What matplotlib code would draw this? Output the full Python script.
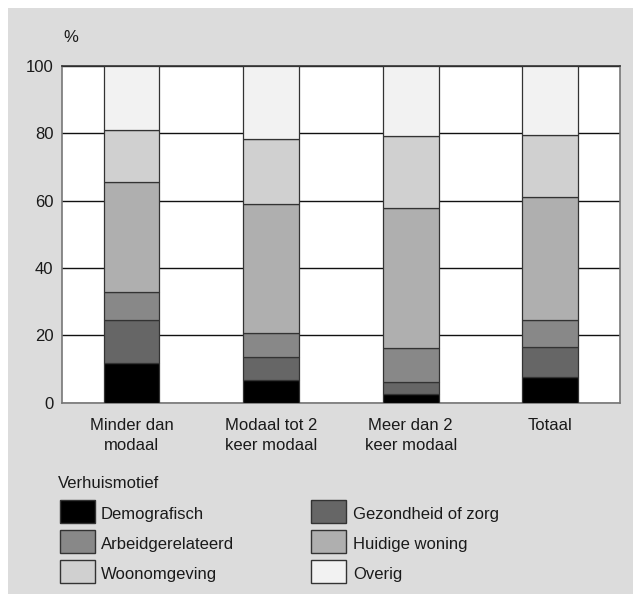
import matplotlib
matplotlib.use("Agg")
import matplotlib.pyplot as plt
from matplotlib.patches import Rectangle
import numpy as np

plt.rcParams['font.family'] = ['Liberation Sans', 'DejaVu Sans']

categories = ["Minder dan\nmodaal", "Modaal tot 2\nkeer modaal", "Meer dan 2\nkeer modaal", "Totaal"]
series_names = ["Demografisch", "Gezondheid of zorg", "Arbeidgerelateerd",
                "Huidige woning", "Woonomgeving", "Overig"]
demografisch = [11.7, 6.7, 2.6, 7.7]
gezondheid = [12.8, 6.9, 3.6, 8.8]
arbeid = [8.3, 7.1, 9.9, 8.1]
huidige = [32.7, 38.2, 41.6, 36.6]
woonomgeving = [15.6, 19.3, 21.5, 18.3]
overig = [18.9, 21.8, 20.8, 20.5]
yticks = [0, 20, 40, 60, 80, 100]

series = [demografisch, gezondheid, arbeid, huidige, woonomgeving, overig]
colors = ["#000000", "#666666", "#888888", "#afafaf", "#d0d0d0", "#f2f2f2"]

W, H = 633, 594
fig = plt.figure(figsize=(W / 100, H / 100), dpi=100, facecolor="white")
fig.patches.append(Rectangle((8 / W, 0), 1 - 8 / W, 1 - 8 / H, transform=fig.transFigure,
                             facecolor="#dcdcdc", edgecolor="none", zorder=-10))

ax = fig.add_axes([61.7 / W, 1 - 402.7 / H, (620 - 61.7) / W, (402.7 - 66) / H])
ax.set_facecolor("white")

x = np.arange(len(categories))
bottom = np.zeros(len(categories))
for vals, col in zip(series, colors):
    ax.bar(x, vals, width=0.40, bottom=bottom, color=col, edgecolor="#333333",
           linewidth=0.9, zorder=3)
    bottom += np.array(vals)

ax.set_xlim(-0.5, 3.5)
ax.set_ylim(0, 100)
ax.set_yticks(yticks)
ax.set_yticklabels([str(t) for t in yticks], fontsize=12, color="#1a1a1a")
ax.set_xticks(x)
ax.set_xticklabels(categories, fontsize=12, color="#1a1a1a", linespacing=1.45)
ax.tick_params(axis="both", length=0)
ax.tick_params(axis="y", pad=6)
ax.tick_params(axis="x", pad=11)
ax.yaxis.grid(True, color="#111111", linewidth=1.0, zorder=1)
ax.set_axisbelow(True)
for s in ["left", "bottom", "right"]:
    ax.spines[s].set_color("#777777")
    ax.spines[s].set_linewidth(1.2)
ax.spines["top"].set_color("#333333")
ax.spines["top"].set_linewidth(1.2)

fig.text(71 / W, 1 - 38 / H, "%", fontsize=12, ha="center", va="center", color="#1a1a1a")

# legend
fig.text(58 / W, 1 - 483 / H, "Verhuismotief", fontsize=12, ha="left", va="center", color="#1a1a1a")
col_x = [59.5, 311]
text_x = [100.5, 353]
row_y = [511, 541, 571]
for i, (name, col) in enumerate(zip(series_names, colors)):
    r, c = divmod(i, 2)
    px, py = col_x[c], row_y[r]
    fig.patches.append(Rectangle((px / W, 1 - (py + 11.5) / H), 35 / W, 23 / H,
                                 transform=fig.transFigure, facecolor=col,
                                 edgecolor="#333333", linewidth=1.0))
    fig.text(text_x[c] / W, 1 - (py + 3) / H, name, fontsize=12, ha="left", va="center",
             color="#1a1a1a")

fig.savefig("out.png", dpi=100, facecolor=fig.get_facecolor())
